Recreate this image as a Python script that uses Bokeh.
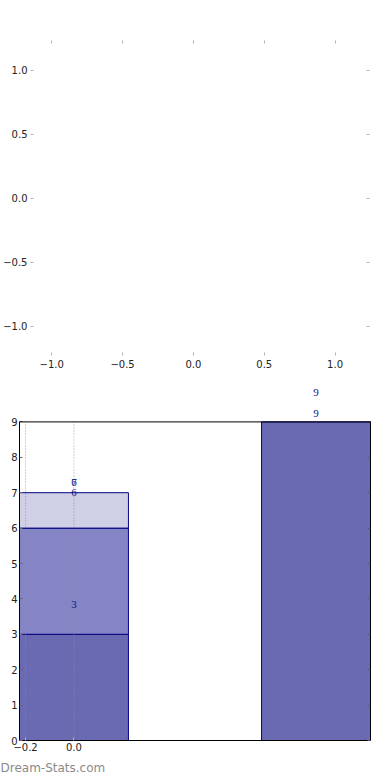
from bokeh.plotting import figure
from bokeh.models import Range1d, LinearAxis, FixedTicker, ColumnDataSource, LabelSet, Title, Span
from bokeh.layouts import column, row
from bokeh.embed import file_html
from bokeh.resources import INLINE

# ---- data ----
top_xticks = [-1.0, -0.5, 0.0, 0.5, 1.0]
top_xlabels = ["−1.0", "−0.5", "0.0", "0.5", "1.0"]
top_yticks = [-1.0, -0.5, 0.0, 0.5, 1.0]
top_ylabels = ["−1.0", "−0.5", "0.0", "0.5", "1.0"]

bar_x = [0.0, 0.0, 0.0, 1.0]
bar_bottom = [0, 3, 6, 0]
bar_top = [3, 6, 7, 9]
bar_colors = ["#6a6ab3", "#8585c5", "#cfcfe6", "#6a6ab3"]

label_x = [0.0, 0.0, 0.0, 0.0, 1.0, 1.0]
label_y = [3.85, 7.0, 7.3, 7.3, 9.25, 9.82]
label_text = ["3", "6", "7", "6", "9", "9"]

bottom_xticks = [-0.2, 0.0]
bottom_xlabels = ["−0.2", "0.0"]
bottom_yticks = [0, 1, 2, 3, 4, 5, 6, 7, 8, 9]
y_top = 9

FONT = "DejaVu Sans"


def style_axis(ax, ticks, labels=None, tick_color="#b0b0b0", tick_in=3):
    ax.ticker = FixedTicker(ticks=ticks)
    ax.axis_line_color = None
    ax.major_tick_line_color = tick_color
    ax.major_tick_in = tick_in
    ax.major_tick_out = 0
    ax.minor_tick_line_color = None
    ax.major_label_text_font = FONT
    ax.major_label_text_font_size = "10px"
    if labels is None:
        ax.major_label_overrides = {t: "" for t in ticks}
        ax.major_label_text_color = None
        ax.major_label_standoff = 0
    else:
        ax.major_label_overrides = {t: l for t, l in zip(ticks, labels)}
        ax.major_label_text_color = "#222222"
        ax.major_label_standoff = 4


# ---- top (empty) panel ----
p1 = figure(width=390, height=380, x_range=Range1d(-1.15, 1.243), y_range=Range1d(-1.227, 1.234),
            output_backend="svg", toolbar_location=None,
            x_axis_location=None, y_axis_location=None,
            min_border_left=21, min_border_right=21, min_border_top=40, min_border_bottom=25)
p1.outline_line_color = None
p1.xgrid.visible = False
p1.ygrid.visible = False

ax_b = LinearAxis(); style_axis(ax_b, top_xticks, top_xlabels); p1.add_layout(ax_b, "below")
ax_t = LinearAxis(); style_axis(ax_t, top_xticks); p1.add_layout(ax_t, "above")
ax_l = LinearAxis(); style_axis(ax_l, top_yticks, top_ylabels); ax_l.major_label_standoff = 3
p1.add_layout(ax_l, "left")
ax_r = LinearAxis(); style_axis(ax_r, top_yticks); p1.add_layout(ax_r, "right")

# ---- bottom (bar) panel ----
p2 = figure(width=390, height=400, x_range=Range1d(-0.225, 1.225), y_range=Range1d(0, 10),
            output_backend="svg", toolbar_location=None,
            x_axis_location=None, y_axis_location=None,
            min_border_left=19, min_border_right=20, min_border_top=6, min_border_bottom=40)
p2.outline_line_color = None
p2.xgrid.visible = False
p2.ygrid.visible = False

src = ColumnDataSource(dict(x=bar_x, bottom=bar_bottom, top=bar_top, color=bar_colors))
p2.vbar(x="x", width=0.45, bottom="bottom", top="top", fill_color="color",
        line_color="#000080", line_width=1, source=src)

# dotted vertical grid lines at the x ticks, limited to the axes box
gsrc = ColumnDataSource(dict(x=bottom_xticks, y0=[0] * len(bottom_xticks), y1=[y_top] * len(bottom_xticks)))
p2.segment(x0="x", y0="y0", x1="x", y1="y1", source=gsrc, line_color="#8c8c8c",
           line_alpha=0.85, line_dash="1 2", line_width=1)

p2.add_layout(Span(location=y_top, dimension="width", line_color="black", line_width=1))

b_b = LinearAxis(); style_axis(b_b, bottom_xticks, bottom_xlabels)
b_b.axis_line_color = "black"; b_b.major_label_standoff = 2
p2.add_layout(b_b, "below")
b_l = LinearAxis(); style_axis(b_l, bottom_yticks, [str(v) for v in bottom_yticks], tick_color="#666666")
b_l.axis_line_color = "black"; b_l.major_label_standoff = 2; b_l.bounds = (0, y_top)
p2.add_layout(b_l, "left")
b_r = LinearAxis(); style_axis(b_r, bottom_yticks, tick_color="#555577")
b_r.axis_line_color = "black"; b_r.bounds = (0, y_top)
p2.add_layout(b_r, "right")

lsrc = ColumnDataSource(dict(x=label_x, y=label_y, t=label_text))
labels = LabelSet(x="x", y="y", text="t", source=lsrc, text_align="center", text_baseline="middle",
                  text_font=FONT, text_font_size="11px", text_color="#141480")
p2.add_layout(labels)

p2.add_layout(Title(text="Dream-Stats.com", align="left", text_color="#8a8a8a",
                    text_font=FONT, text_font_size="12px", text_font_style="normal",
                    offset=-19, standoff=11), "below")

layout = column(row(p1), row(p2), spacing=0)
open("out.html", "w").write(file_html(layout, INLINE))
